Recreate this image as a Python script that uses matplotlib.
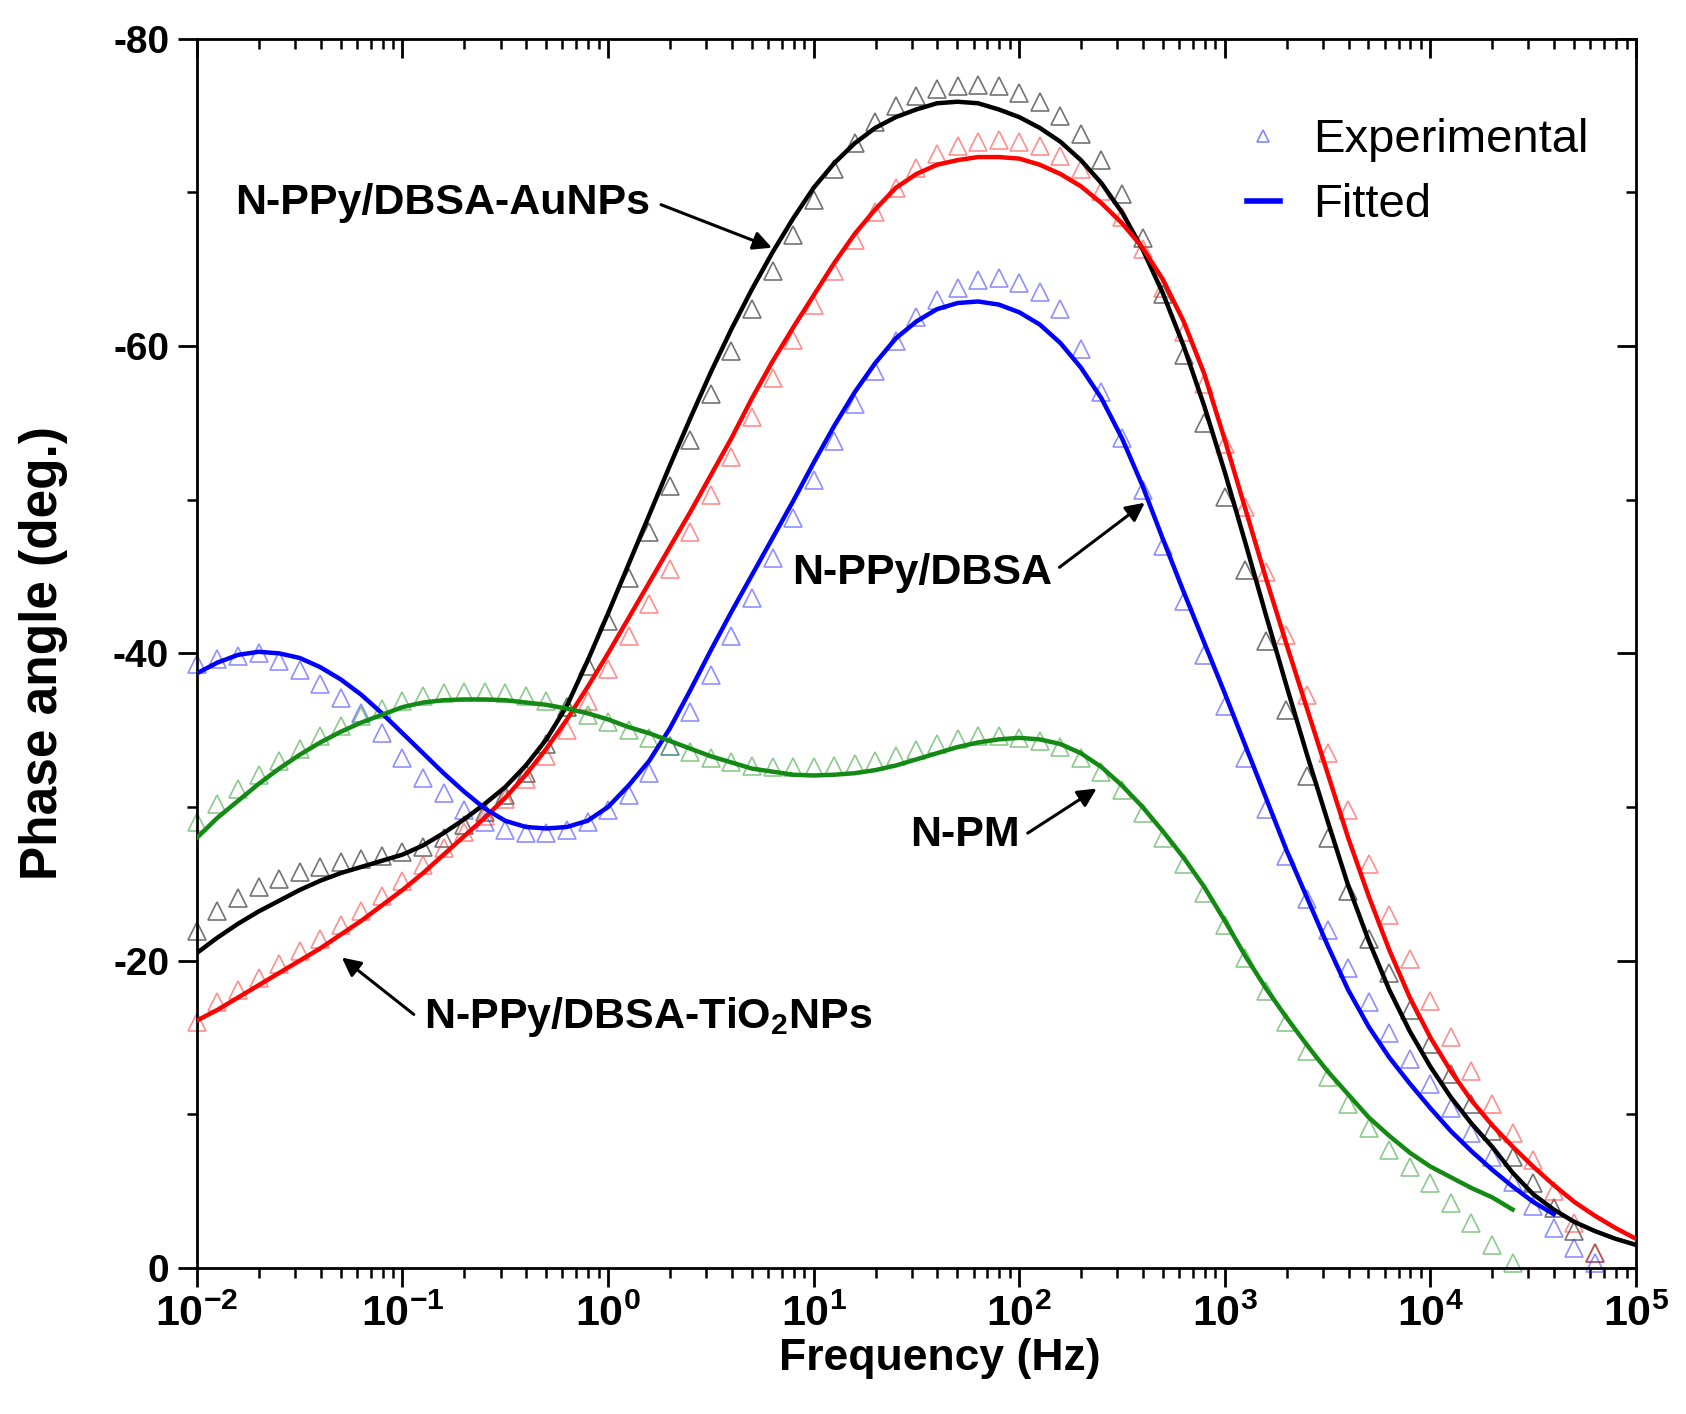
import matplotlib
matplotlib.use('Agg')
import matplotlib.pyplot as plt
from matplotlib.lines import Line2D

plt.rcParams['font.family'] = ['Liberation Sans', 'DejaVu Sans']
plt.rcParams['axes.unicode_minus'] = False
plt.rcParams['mathtext.fontset'] = 'custom'
plt.rcParams['mathtext.rm'] = 'Liberation Sans:bold'
plt.rcParams['mathtext.it'] = 'Liberation Sans:bold'
plt.rcParams['mathtext.bf'] = 'Liberation Sans:bold'
plt.rcParams['mathtext.sf'] = 'Liberation Sans:bold'

# frequency sweep, 10 points per decade, 1e-2 .. 1e5 Hz
MANT = [1.0, 1.259, 1.585, 1.995, 2.512, 3.162, 3.981, 5.012, 6.310, 7.943]
freq = [m * 10.0 ** d for d in range(-2, 5) for m in MANT] + [1e5]

# phase angle (deg.)
au_exp = [-21.9, -23.2, -24.1, -24.8, -25.3, -25.8, -26.1, -26.4, -26.6, -26.8,
          -27.1, -27.4, -28.0, -28.8, -29.7, -30.8, -32.2, -34.1, -36.5, -39.2,
          -42.1, -44.9, -47.9, -50.9, -53.9, -56.9, -59.7, -62.4, -64.9, -67.2,
          -69.5, -71.5, -73.2, -74.6, -75.6, -76.3, -76.7, -76.9, -77.0, -76.9,
          -76.5, -75.9, -75.0, -73.8, -72.1, -69.9, -67.0, -63.4, -59.4, -55.0,
          -50.2, -45.4, -40.8, -36.3, -32.0, -28.0, -24.5, -21.4, -19.2, -16.8,
          -14.6, -12.6, -10.7, -8.9, -7.2, -5.5, -3.9, -2.4, -1.0]
au_fit = [-20.5, -21.5, -22.4, -23.2, -23.9, -24.6, -25.2, -25.7, -26.1, -26.5,
          -26.9, -27.5, -28.3, -29.2, -30.2, -31.3, -32.7, -34.4, -36.6, -39.5,
          -42.6, -45.8, -49.0, -52.2, -55.3, -58.3, -61.1, -63.7, -66.1, -68.3,
          -70.3, -71.9, -73.2, -74.2, -74.9, -75.4, -75.8, -75.9, -75.8, -75.4,
          -74.9, -74.2, -73.3, -72.1, -70.6, -68.7, -66.3, -63.4, -60.0, -56.1,
          -51.8, -47.2, -42.5, -37.9, -33.4, -29.1, -24.9, -21.3, -18.1, -15.4,
          -13.1, -11.1, -9.4, -7.9, -6.2, -4.8, -3.8, -3.0, -2.4, -1.9, -1.5]

ti_exp = [-16.0, -17.3, -18.1, -18.9, -19.8, -20.6, -21.4, -22.3, -23.2, -24.2,
          -25.2, -26.2, -27.3, -28.4, -29.4, -30.5, -31.8, -33.3, -35.0, -36.9,
          -39.0, -41.1, -43.2, -45.5, -47.9, -50.3, -52.8, -55.4, -57.9, -60.4,
          -62.7, -64.9, -66.9, -68.7, -70.3, -71.6, -72.5, -73.0, -73.3, -73.4,
          -73.3, -73.0, -72.4, -71.5, -70.1, -68.4, -66.3, -63.8, -60.9, -57.5,
          -53.6, -49.5, -45.3, -41.2, -37.3, -33.5, -29.8, -26.3, -23.0, -20.1,
          -17.4, -15.0, -12.8, -10.7, -8.8, -7.0, -5.0, -2.9, -1.0]
ti_fit = [-16.1, -16.8, -17.6, -18.4, -19.2, -20.0, -20.8, -21.7, -22.6, -23.6,
          -24.6, -25.7, -26.9, -28.1, -29.3, -30.6, -32.1, -33.8, -35.7, -37.8,
          -40.0, -42.3, -44.6, -46.9, -49.2, -51.6, -54.0, -56.6, -59.0, -61.2,
          -63.3, -65.4, -67.3, -68.9, -70.3, -71.2, -71.8, -72.1, -72.3, -72.3,
          -72.2, -71.8, -71.2, -70.4, -69.3, -68.0, -66.4, -64.3, -61.6, -58.2,
          -53.9, -49.4, -44.9, -40.6, -36.4, -32.2, -28.0, -24.2, -20.7, -17.6,
          -15.0, -12.8, -10.9, -9.3, -7.9, -6.6, -5.4, -4.3, -3.4, -2.6, -1.9]

dbsa_exp = [-39.3, -39.6, -39.8, -40.0, -39.5, -38.9, -38.0, -37.1, -36.1, -34.8,
            -33.2, -31.9, -30.9, -29.8, -29.0, -28.5, -28.3, -28.3, -28.5, -29.0,
            -29.8, -30.8, -32.2, -34.0, -36.2, -38.6, -41.1, -43.6, -46.2, -48.8,
            -51.3, -53.8, -56.2, -58.4, -60.3, -61.9, -63.0, -63.8, -64.3, -64.4,
            -64.1, -63.5, -62.4, -59.8, -57.0, -54.0, -50.6, -47.0, -43.4, -39.9,
            -36.6, -33.2, -29.9, -26.8, -24.0, -22.0, -19.5, -17.3, -15.3, -13.6,
            -12.0, -10.4, -8.8, -7.2, -5.6, -4.0, -2.6, -1.3, -0.3]
dbsa_fit = [-38.7, -39.4, -39.9, -40.1, -40.0, -39.7, -39.1, -38.3, -37.3, -36.1,
            -34.8, -33.5, -32.2, -31.0, -29.9, -29.1, -28.7, -28.6, -28.7, -29.1,
            -30.0, -31.4, -33.0, -35.1, -37.6, -40.2, -42.7, -45.1, -47.5, -49.9,
            -52.4, -54.8, -57.0, -58.9, -60.5, -61.6, -62.4, -62.8, -62.9, -62.7,
            -62.2, -61.4, -60.2, -58.6, -56.6, -54.0, -50.9, -47.4, -44.0, -40.7,
            -37.4, -34.0, -30.6, -27.2, -24.1, -21.0, -18.1, -15.7, -13.7, -12.0,
            -10.4, -8.9, -7.6, -6.4, -5.3, -4.3, -3.5]

pm_exp = [-29.0, -30.2, -31.2, -32.1, -33.0, -33.8, -34.6, -35.3, -35.9, -36.4,
          -36.9, -37.2, -37.4, -37.5, -37.5, -37.4, -37.2, -36.9, -36.5, -36.0,
          -35.5, -35.0, -34.5, -34.0, -33.6, -33.2, -32.9, -32.7, -32.6, -32.6,
          -32.6, -32.7, -32.8, -33.0, -33.3, -33.7, -34.1, -34.4, -34.6, -34.6,
          -34.5, -34.3, -33.9, -33.2, -32.3, -31.1, -29.6, -28.0, -26.3, -24.4,
          -22.3, -20.2, -18.0, -16.0, -14.1, -12.4, -10.7, -9.1, -7.7, -6.6,
          -5.5, -4.2, -2.9, -1.5, -0.3]
pm_fit = [-28.0, -29.3, -30.4, -31.5, -32.5, -33.4, -34.2, -34.9, -35.5, -36.0,
          -36.5, -36.8, -36.95, -37.0, -37.0, -36.95, -36.8, -36.65, -36.4, -36.1,
          -35.7, -35.2, -34.8, -34.3, -33.8, -33.3, -32.9, -32.5, -32.3, -32.1,
          -32.05, -32.1, -32.2, -32.4, -32.7, -33.1, -33.5, -33.9, -34.2, -34.4,
          -34.5, -34.4, -34.1, -33.5, -32.6, -31.4, -30.0, -28.4, -26.7, -24.8,
          -22.6, -20.3, -18.2, -16.3, -14.5, -12.8, -11.3, -9.8, -8.6, -7.5,
          -6.6, -5.9, -5.2, -4.6, -3.8]

series = [
    (au_exp, au_fit, 'black', '#000000'),
    (ti_exp, ti_fit, '#ff3333', '#ff0000'),
    (dbsa_exp, dbsa_fit, '#3333ff', '#0000ff'),
    (pm_exp, pm_fit, '#2e9e2e', '#138a13'),
]

fig = plt.figure(figsize=(16.86, 14.14), dpi=100)
ax = fig.add_axes([0.1168, 0.1033, 0.8535, 0.8693])

for exp, fit, mcol, lcol in series:
    ax.plot(freq[:len(exp)], exp, ls='none', marker='^', ms=13, mfc='none',
            mec=mcol, mew=1.2, alpha=0.55, zorder=2, clip_on=False)
    ax.plot(freq[:len(fit)], fit, color=lcol, lw=3.2, zorder=3)

ax.set_xscale('log')
ax.set_xlim(1e-2, 1e5)
ax.set_ylim(0, -80)

decades = list(range(-2, 6))
ax.set_xticks([10.0 ** k for k in decades])
ax.set_xticklabels([r'$10^{%d}$' % k for k in decades])
ax.set_yticks([0, -20, -40, -60, -80])
ax.set_yticks([-10, -30, -50, -70], minor=True)

for sp in ax.spines.values():
    sp.set_linewidth(2)
ax.tick_params(axis='both', which='major', direction='out', length=14, width=2,
               labelsize=28, pad=6)
ax.tick_params(axis='both', which='minor', direction='out', length=7, width=1.8)
ax.tick_params(axis='x', labelsize=31, pad=5)
for lab in ax.get_yticklabels():
    lab.set_fontweight('bold')

secx = ax.secondary_xaxis('top')
secx.set_xticks([10.0 ** k for k in decades])
secx.tick_params(which='major', direction='in', length=14, width=2, labeltop=False)
secx.tick_params(which='minor', direction='in', length=7, width=1.8)
secy = ax.secondary_yaxis('right')
secy.set_yticks([0, -20, -40, -60, -80])
secy.set_yticks([-10, -30, -50, -70], minor=True)
secy.tick_params(which='major', direction='in', length=14, width=2, labelright=False)
secy.tick_params(which='minor', direction='in', length=7, width=1.8)

ax.set_xlabel('Frequency (Hz)', fontsize=32, fontweight='bold', labelpad=2)
ax.xaxis.label.set_x(0.516)
ax.set_ylabel('Phase angle (deg.)', fontsize=37, fontweight='bold', labelpad=32)

handles = [
    Line2D([], [], ls='none', marker='^', ms=9, mfc='none', mec='#3333ff',
           mew=1.2, alpha=0.6),
    Line2D([], [], color='#0000ff', lw=4),
]
ax.legend(handles, ['Experimental', 'Fitted'], loc='upper left',
          bbox_to_anchor=(0.7, 0.97), frameon=False, fontsize=34,
          handlelength=0.7, handletextpad=0.7, labelspacing=0.45)

# labels with arrows pointing to the curves
arrow = dict(arrowstyle='-|>', color='black', lw=2.2, mutation_scale=28,
             shrinkA=0, shrinkB=0)
ax.annotate('', xy=(6.27, -66.4), xytext=(1.81, -69.2), arrowprops=arrow)
ax.annotate('', xy=(408, -49.8), xytext=(157, -45.6), arrowprops=arrow)
ax.annotate('', xy=(238, -31.2), xytext=(110, -28.3), arrowprops=arrow)
ax.annotate('', xy=(0.0507, -20.2), xytext=(0.1135, -16.5), arrowprops=arrow)

txt = dict(fontsize=31, fontweight='bold', va='center')
ax.text(1.61, -69.3, 'N-PPy/DBSA-AuNPs', ha='right', **txt)
ax.text(144, -45.2, 'N-PPy/DBSA', ha='right', **txt)
ax.text(100.7, -28.2, 'N-PM', ha='right', **txt)
ax.text(0.127, -16.3, r'N-PPy/DBSA-TiO$_2$NPs', ha='left', **txt)

fig.savefig('out.png', dpi=100)
